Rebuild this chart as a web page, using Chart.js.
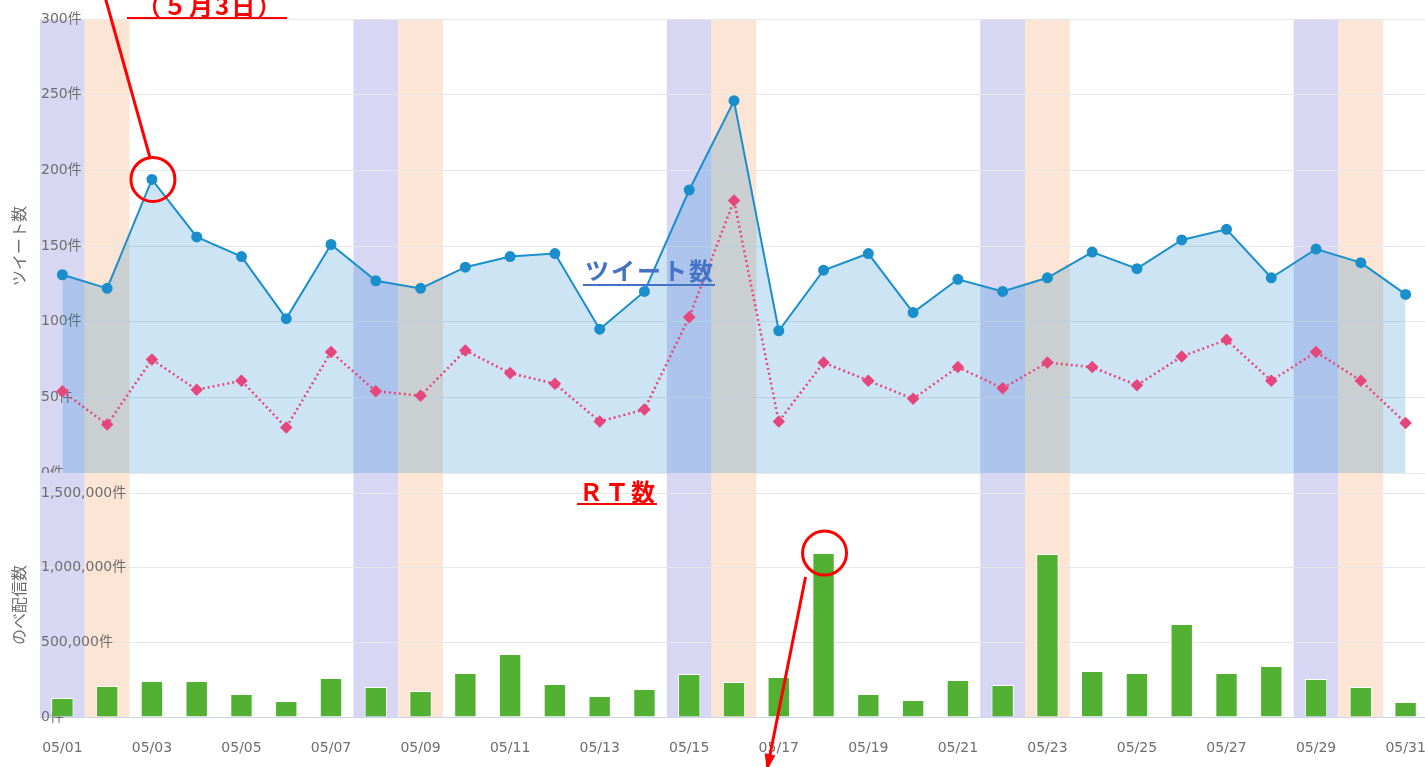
<!DOCTYPE html>
<html lang="ja">
<head>
<meta charset="UTF-8">
<title>ツイート数とのべ配信数</title>
<script src="https://cdn.jsdelivr.net/npm/chart.js@4"></script>
<style>
    body { margin: 0; width: 1425px; height: 767px; overflow: hidden; background: #fff; position: relative; font-family: 'Noto Sans CJK JP', sans-serif; }
    #top-box { position: absolute; left: 0; top: 0; width: 1428px; height: 480px; }
    #bottom-box { position: absolute; left: 0; top: 473px; width: 1428px; height: 294px; }
    .note { position: absolute; font-weight: bold; font-size: 24px; line-height: 24px; letter-spacing: 2px; white-space: nowrap; z-index: 5; }
    #note-date { left: 127px; top: -7px; color: #ff0000; border-bottom: 2px solid #ff0000; padding: 0 4px 0 10px; }
    #note-tweet { left: 583px; top: 258px; color: #4472c4; border-bottom: 2px solid #4472c4; padding: 0 0 2px 2px; }
    #note-rt { left: 577px; top: 479px; color: #ff0000; border-bottom: 2px solid #ff0000; padding: 0 0 0 2px; }
</style>
</head>
<body>
<div id="top-box"><canvas id="tweetChart"></canvas></div>
<div id="bottom-box"><canvas id="rtChart"></canvas></div>
<div class="note" id="note-date">（５月3日）</div>
<div class="note" id="note-tweet">ツイート数</div>
<div class="note" id="note-rt">ＲＴ数</div>
<script>
// 日付
const labels = ['05/01','05/02','05/03','05/04','05/05','05/06','05/07','05/08','05/09','05/10',
                '05/11','05/12','05/13','05/14','05/15','05/16','05/17','05/18','05/19','05/20',
                '05/21','05/22','05/23','05/24','05/25','05/26','05/27','05/28','05/29','05/30','05/31'];
// ツイート数
const tweets = [131,122,194,156,143,102,151,127,122,136,143,145,95,120,187,246,94,134,145,106,
                128,120,129,146,135,154,161,129,148,139,118];
// RT数
const retweets = [54,32,75,55,61,30,80,54,51,81,66,59,34,42,103,180,34,73,61,49,
                  70,56,73,70,58,77,88,61,80,61,33];
// のべ配信数
const deliveries = [127000,208000,241000,241000,154000,107000,261000,201000,174000,295000,
                    422000,221000,141000,188000,288000,234000,268000,1098000,154000,114000,
                    248000,214000,1092000,308000,295000,623000,295000,342000,255000,201000,100000];
const saturdays = ['05/01','05/08','05/15','05/22','05/29'];
const sundays = ['05/02','05/09','05/16','05/23','05/30'];
const tweetTicks = [0, 50, 100, 150, 200, 250, 300];
const deliveryTicks = [0, 500000, 1000000, 1500000];

const SAT_COLOR = '#d7d7f4';
const SUN_COLOR = '#fde5d5';
const RED = '#ff0000';
const TICK_FONT = "'DejaVu Sans', 'Noto Sans CJK JP', sans-serif";

// 土日の背景
function bandPlugin(fromCanvasTop) {
    return {
        id: 'weekendBands',
        beforeDraw(chart) {
            const ctx = chart.ctx;
            const x = chart.scales.x;
            const area = chart.chartArea;
            const half = (x.getPixelForValue(1) - x.getPixelForValue(0)) / 2;
            const top = fromCanvasTop ? 0 : area.top;
            ctx.save();
            const paint = (days, color) => {
                ctx.fillStyle = color;
                days.forEach(d => {
                    const px = x.getPixelForValue(labels.indexOf(d));
                    ctx.fillRect(px - half, top, half * 2, area.bottom - top);
                });
            };
            paint(saturdays, SAT_COLOR);
            paint(sundays, SUN_COLOR);
            ctx.restore();
        }
    };
}

// 赤丸と矢印
function circlePlugin(dayLabel, datasetValues, yId, drawPointer) {
    return {
        id: 'redCircle',
        afterDraw(chart) {
            const ctx = chart.ctx;
            const i = labels.indexOf(dayLabel);
            const cx = chart.scales.x.getPixelForValue(i) + 1;
            const cy = chart.scales[yId].getPixelForValue(datasetValues[i]);
            ctx.save();
            ctx.strokeStyle = RED;
            ctx.fillStyle = RED;
            ctx.lineWidth = 3;
            ctx.beginPath();
            ctx.arc(cx, cy, 22, 0, Math.PI * 2);
            ctx.stroke();
            drawPointer(ctx, cx, cy);
            ctx.restore();
        }
    };
}

function yAxis(title, ticks, max, fmt) {
    return {
        min: 0,
        max: max,
        afterFit(scale) {
            scale.width = 40;
            scale.paddingTop = 0;
            scale.paddingBottom = 0;
        },
        afterBuildTicks(scale) { scale.ticks = ticks.map(v => ({ value: v })); },
        border: { display: false },
        grid: { color: '#e6e6e6', drawTicks: false },
        ticks: {
            mirror: true,
            padding: 1,
            color: '#6e6e6e',
            font: { family: TICK_FONT, size: 14 },
            callback: fmt
        },
        title: {
            display: true,
            text: title,
            color: '#6e6e6e',
            font: { family: 'Noto Sans CJK JP', size: 16 },
            padding: { top: 9, bottom: 0 }
        }
    };
}

new Chart(document.getElementById('tweetChart'), {
    type: 'line',
    data: {
        labels: labels,
        datasets: [
            {
                label: 'ツイート数',
                data: tweets,
                borderColor: '#1a8fcb',
                backgroundColor: 'rgba(0, 120, 200, 0.2)',
                pointBackgroundColor: '#1a8fcb',
                pointBorderColor: '#1a8fcb',
                pointRadius: 4.5,
                borderWidth: 2,
                tension: 0,
                fill: 'origin',
                yAxisID: 'y'
            },
            {
                label: 'RT数',
                data: retweets,
                borderColor: '#e5477c',
                pointBackgroundColor: '#e5477c',
                pointBorderColor: '#e5477c',
                pointStyle: 'rectRot',
                pointRadius: 4.5,
                borderWidth: 2.5,
                borderDash: [2, 3],
                tension: 0,
                fill: false,
                yAxisID: 'y'
            }
        ]
    },
    options: {
        responsive: true,
        maintainAspectRatio: false,
        animation: false,
        layout: { autoPadding: false, padding: { top: 19, bottom: 7, left: 0, right: 0 } },
        plugins: {
            legend: { display: false },
            tooltip: { enabled: false },
            filler: { drawTime: 'beforeDatasetsDraw' }
        },
        scales: {
            x: { display: false, offset: true },
            y: yAxis('ツイート数', tweetTicks, 300, v => v + '件')
        }
    },
    plugins: [
        bandPlugin(false),
        circlePlugin('05/03', tweets, 'y', (ctx, cx, cy) => {
            ctx.beginPath();
            ctx.moveTo(cx - 50, cy - 190);
            ctx.lineTo(cx - 3, cy - 22);
            ctx.stroke();
        })
    ]
});

new Chart(document.getElementById('rtChart'), {
    type: 'bar',
    data: {
        labels: labels,
        datasets: [
            {
                label: 'のべ配信数',
                data: deliveries,
                backgroundColor: '#52b132',
                borderColor: '#ffffff',
                borderWidth: 1,
                barPercentage: 0.5,
                categoryPercentage: 1.0,
                yAxisID: 'y'
            }
        ]
    },
    options: {
        responsive: true,
        maintainAspectRatio: false,
        animation: false,
        layout: { autoPadding: false, padding: { top: 20, bottom: 0, left: 0, right: 0 } },
        plugins: {
            legend: { display: false },
            tooltip: { enabled: false }
        },
        scales: {
            x: {
                offset: true,
                afterFit(scale) { scale.height = 50; scale.paddingLeft = 0; scale.paddingRight = 0; },
                grid: { display: false },
                border: { color: '#ccd6eb', width: 1 },
                ticks: {
                    autoSkip: false,
                    maxRotation: 0,
                    padding: 15,
                    color: '#6e6e6e',
                    font: { family: TICK_FONT, size: 14 },
                    callback: (v, i) => (i % 2 === 0 ? labels[i] : '')
                }
            },
            y: yAxis('のべ配信数', deliveryTicks, 1500000, v => v.toLocaleString('en-US') + '件')
        }
    },
    plugins: [
        bandPlugin(true),
        circlePlugin('05/18', deliveries, 'y', (ctx, cx, cy) => {
            const x1 = cx - 19, y1 = cy + 24, x2 = cx - 57, y2 = cy + 214;
            ctx.beginPath();
            ctx.moveTo(x1, y1);
            ctx.lineTo(x2, y2);
            ctx.stroke();
            const ang = Math.atan2(y2 - y1, x2 - x1);
            ctx.beginPath();
            ctx.moveTo(x2 + 4 * Math.cos(ang), y2 + 4 * Math.sin(ang));
            ctx.lineTo(x2 - 14 * Math.cos(ang - 0.4), y2 - 14 * Math.sin(ang - 0.4));
            ctx.lineTo(x2 - 14 * Math.cos(ang + 0.4), y2 - 14 * Math.sin(ang + 0.4));
            ctx.closePath();
            ctx.fill();
        })
    ]
});
</script>
</body>
</html>
